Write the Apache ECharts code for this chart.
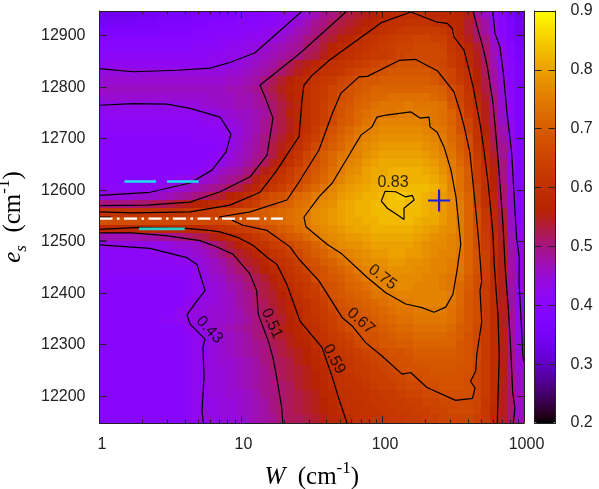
<!DOCTYPE html>
<html><head><meta charset="utf-8">
<style>html,body{margin:0;padding:0;background:#fff}#c{width:599px;height:489px}</style>
<script src="https://cdn.jsdelivr.net/npm/echarts@6/dist/echarts.min.js"></script>
</head><body><div id="c"></div>
<script>
// Values, in hundredths, top row first, W rising left to right
const fidelityRows = [
[34,34,34,34,34,35,35,36,36,36,36,37,37,37,38,38,39,39,39,40,40,41,42,43,45,47,49,50,52,53,54,55,56,57,58,59,59,59,59,58,58,58,57,55,49,46,42,39,36,33],
[35,35,35,35,36,36,36,37,37,37,37,38,38,39,39,39,40,40,40,41,41,42,43,45,47,49,50,52,53,54,55,56,57,59,60,60,61,61,61,60,60,58,57,54,51,48,43,40,37,34],
[37,37,37,37,37,37,37,38,38,38,38,39,39,40,40,40,40,41,41,42,43,44,45,47,48,50,51,53,54,55,56,58,59,60,61,62,63,63,63,63,62,60,57,54,51,48,44,40,37,34],
[39,39,39,39,39,39,39,39,39,39,39,40,40,40,41,41,41,42,42,43,44,45,47,48,50,51,53,54,56,57,59,60,61,62,63,64,64,65,65,64,64,61,58,55,52,50,45,41,38,35],
[40,40,40,40,40,40,40,40,40,40,40,41,41,41,41,42,42,43,44,45,46,47,48,49,51,52,54,56,58,59,60,61,62,63,64,65,65,66,66,66,65,62,60,57,54,51,46,42,39,36],
[41,41,41,41,41,41,41,41,41,41,41,41,41,42,42,43,43,44,45,46,47,48,49,50,52,53,55,57,59,60,61,62,63,63,64,65,66,66,66,66,66,63,61,58,55,51,47,43,39,36],
[42,42,42,42,42,42,42,42,42,42,42,42,42,42,43,43,44,45,46,47,48,50,52,54,55,57,59,60,61,62,63,64,65,66,67,68,68,68,67,66,65,63,61,58,55,52,47,43,40,37],
[44,44,44,44,44,44,44,44,44,44,44,44,44,44,44,45,45,46,47,48,50,51,53,55,57,59,60,61,62,64,65,66,67,68,69,69,69,69,69,68,66,65,62,60,56,52,48,43,40,37],
[45,45,45,45,45,45,45,45,45,45,45,45,45,45,45,46,46,47,48,50,52,54,56,58,59,61,62,63,65,66,68,69,69,70,70,70,70,70,70,69,67,65,63,60,56,53,48,44,40,37],
[46,46,46,46,46,46,46,46,46,46,46,46,46,46,46,47,47,48,49,51,53,55,57,58,60,62,63,65,66,68,69,70,71,71,71,71,71,71,71,71,70,67,65,61,57,53,49,44,41,38],
[45,45,45,45,45,45,45,45,45,45,45,45,45,46,46,46,47,47,48,50,52,54,56,58,60,62,63,65,67,68,70,71,72,72,73,73,73,73,73,72,71,68,65,62,58,54,50,44,41,38],
[43,43,43,43,43,43,43,43,43,43,44,44,45,45,46,46,47,47,48,49,51,53,55,58,60,62,64,66,68,69,71,72,73,74,74,74,75,74,74,74,73,69,66,62,59,55,50,45,41,38],
[42,42,42,42,42,42,42,42,42,42,42,42,43,43,44,45,46,46,47,48,51,53,56,58,60,62,64,66,68,70,72,73,74,74,74,75,75,75,75,74,73,71,67,63,60,55,51,45,41,38],
[41,41,41,41,41,41,41,41,41,41,41,41,42,42,42,44,45,46,47,49,51,53,55,58,60,62,64,66,69,70,72,74,75,76,76,76,76,76,75,74,73,71,68,65,60,55,51,46,42,38],
[41,41,41,41,41,41,41,41,41,41,41,41,41,41,42,43,44,46,47,49,51,53,55,58,60,63,66,68,70,72,74,75,76,77,77,77,77,77,76,75,74,72,68,65,61,56,52,47,42,38],
[40,40,40,40,40,40,40,40,40,40,40,41,41,41,41,43,45,46,48,50,52,54,56,59,62,64,67,69,71,73,75,76,77,78,78,78,78,78,77,76,75,72,70,67,61,57,52,48,43,38],
[40,40,40,40,40,40,40,40,40,40,40,40,40,40,41,43,45,47,48,50,53,55,58,60,63,66,68,70,72,74,76,77,78,79,79,79,79,79,78,77,75,73,70,67,62,58,53,49,44,39],
[40,40,40,40,40,40,40,40,40,40,40,40,40,41,42,44,46,47,49,50,53,56,59,62,65,68,70,72,74,75,76,78,79,80,80,80,80,80,79,78,76,74,71,68,63,59,54,49,43,39],
[40,40,40,40,40,40,40,40,40,40,40,40,41,42,43,45,46,48,50,52,55,57,60,63,66,68,70,72,75,76,77,79,80,81,81,81,81,81,80,79,77,75,72,69,64,59,55,50,44,39],
[40,40,40,40,40,40,40,40,40,40,40,41,42,44,46,47,48,50,52,55,58,60,63,65,67,69,71,73,75,77,78,80,81,81,82,82,82,82,81,80,78,75,73,70,64,60,56,50,44,39],
[40,40,40,40,40,40,41,41,41,42,42,44,45,46,48,49,50,52,55,58,60,62,64,66,68,70,72,74,76,78,79,80,81,82,82,82,82,82,82,81,79,76,73,70,64,60,56,50,44,39],
[41,41,41,41,41,42,42,43,44,45,46,47,48,49,50,52,53,55,57,60,62,64,66,68,70,72,74,76,78,79,80,81,82,82,83,83,83,83,83,82,80,76,73,70,65,60,56,51,44,39],
[44,44,44,44,45,45,45,46,47,48,49,50,51,53,54,56,57,59,62,65,67,68,70,72,73,75,76,77,79,80,81,82,82,83,84,85,84,83,82,81,79,77,74,71,65,60,57,51,45,40],
[50,50,50,50,51,51,52,52,53,54,55,56,57,58,59,59,60,62,64,67,68,70,71,73,74,76,77,78,80,81,82,82,83,83,84,84,83,83,82,81,79,77,75,71,65,60,57,51,45,40],
[61,61,61,61,61,61,61,61,61,61,62,63,63,64,65,66,67,68,69,70,71,72,73,74,75,77,78,79,80,81,82,82,83,83,83,84,83,83,82,81,79,77,75,71,67,62,58,53,45,40],
[68,67,67,67,67,66,66,66,66,66,66,66,66,66,66,67,68,68,69,70,71,72,73,74,75,77,78,79,80,81,81,82,82,83,83,83,83,82,81,81,79,77,75,71,67,62,58,53,46,40],
[58,58,58,58,58,58,58,58,58,58,58,58,59,60,61,62,63,64,65,67,68,70,71,73,74,76,77,78,79,80,81,81,82,82,82,82,82,81,80,79,78,77,75,71,67,63,58,54,46,41],
[47,47,47,47,47,48,48,49,49,50,51,52,53,55,56,58,59,60,62,64,65,67,69,70,72,74,76,77,78,79,79,80,81,81,81,81,81,80,79,78,77,76,75,71,67,63,59,54,47,42],
[43,43,43,43,43,43,43,43,44,45,45,46,48,50,52,54,56,58,60,61,63,64,66,68,69,71,73,76,77,78,78,79,80,80,80,80,80,79,78,77,77,76,75,71,67,63,59,55,47,42],
[41,41,41,41,41,41,42,42,43,43,44,45,46,48,50,52,54,55,57,59,61,62,64,66,68,70,71,73,75,76,77,78,79,79,80,80,79,79,78,77,76,76,74,71,68,64,59,55,48,43],
[41,41,41,41,41,41,41,41,41,42,42,43,45,46,48,50,52,54,55,57,59,61,62,64,67,68,70,71,73,75,76,77,78,78,79,79,78,78,77,76,76,75,74,71,68,64,59,55,48,43],
[41,41,41,41,41,41,41,41,41,41,41,43,44,46,47,49,51,52,54,56,58,59,61,63,65,67,68,70,71,73,75,76,76,77,78,78,78,77,77,76,76,75,74,71,68,64,59,55,48,43],
[40,40,40,40,40,40,40,40,40,40,41,42,43,45,46,48,49,51,52,54,56,58,60,62,63,67,68,69,70,72,73,75,76,76,77,77,77,77,76,76,75,74,73,70,67,64,59,55,48,43],
[40,40,40,40,40,40,40,40,40,40,41,42,43,44,45,47,48,50,52,53,55,57,59,61,62,64,67,68,69,71,72,73,75,76,76,77,77,76,76,76,75,74,72,70,67,63,59,55,48,43],
[40,40,40,40,40,40,40,40,40,40,41,42,43,44,45,46,48,49,51,53,54,56,58,60,62,63,65,68,69,70,71,72,74,74,75,76,76,76,76,76,76,75,72,69,67,63,59,55,48,43],
[40,40,40,40,40,40,40,40,40,40,42,43,44,44,45,46,48,49,51,52,54,55,57,59,60,62,64,66,68,69,70,71,72,73,74,75,75,76,76,76,76,74,72,69,67,63,59,55,48,43],
[40,40,40,40,40,40,40,40,40,42,43,44,44,45,45,46,47,49,50,52,53,55,57,58,60,62,63,65,67,68,69,70,71,72,73,74,74,75,75,75,75,73,71,69,67,63,59,55,49,43],
[40,40,40,40,40,40,40,41,41,42,43,44,44,45,45,46,47,48,50,52,53,54,56,58,60,61,63,64,66,68,68,69,70,71,72,73,73,74,74,74,74,73,71,69,67,63,59,55,49,43],
[40,40,40,40,40,40,40,40,40,40,42,43,44,45,46,47,48,49,50,51,53,55,56,57,59,60,62,64,65,67,68,68,69,70,71,72,72,73,73,73,73,72,70,69,66,63,59,55,49,43],
[40,40,40,40,40,40,40,40,40,40,41,42,43,44,45,46,47,48,50,51,53,54,55,57,58,60,61,63,64,65,67,68,68,69,70,71,71,72,72,72,72,71,70,68,66,63,59,55,49,43],
[40,40,40,40,40,40,40,40,40,40,41,42,43,44,45,46,47,48,49,50,52,53,55,56,57,59,60,62,63,64,66,67,68,69,69,70,70,71,71,71,71,71,69,68,66,63,59,55,49,44],
[40,40,40,40,40,40,40,40,40,40,41,42,43,44,45,46,47,48,49,50,51,53,54,55,56,58,60,61,62,63,64,65,66,67,68,68,69,70,70,70,70,70,69,68,66,63,59,55,50,44],
[40,40,40,40,40,40,40,40,40,40,41,42,43,44,45,45,46,47,48,50,51,52,53,55,56,57,59,60,61,62,63,64,65,66,67,68,68,69,69,69,69,69,69,68,66,63,59,55,50,45],
[40,40,40,40,40,40,40,40,40,40,41,42,43,44,44,45,46,47,48,49,51,52,53,54,55,57,58,60,61,62,63,63,64,65,66,67,68,68,68,69,69,69,68,68,65,63,59,55,50,45],
[40,40,40,40,40,40,40,40,40,40,41,42,43,44,44,45,46,47,48,49,50,52,53,54,55,56,58,59,60,61,62,63,64,64,65,66,67,67,68,68,68,68,68,67,65,63,59,55,51,46],
[40,40,40,40,40,40,40,40,40,40,41,42,43,44,44,45,46,47,48,49,50,51,52,54,55,56,57,59,60,61,61,62,63,64,64,65,66,66,67,67,68,68,68,67,65,63,59,55,51,46],
[40,40,40,40,40,40,40,40,40,40,41,42,43,44,44,45,45,46,47,49,50,51,52,53,54,55,57,58,60,60,61,61,62,63,63,64,65,65,66,66,67,67,67,67,65,63,59,55,51,46],
[40,40,40,40,40,40,40,40,40,40,41,42,43,43,44,44,45,46,47,48,50,51,52,53,54,55,56,58,59,60,60,61,62,62,63,63,64,64,65,65,66,66,66,66,65,62,59,55,51,46],
[40,40,40,40,40,40,40,40,40,40,41,42,43,43,44,44,45,46,47,48,50,51,52,53,54,55,56,57,59,60,60,61,61,62,62,63,63,64,64,65,65,66,66,66,65,62,58,55,51,46],
[40,40,40,40,40,40,40,40,40,40,41,42,43,43,44,44,45,46,47,48,49,51,52,52,53,54,55,57,58,59,60,60,61,61,62,62,63,63,64,64,65,65,65,65,64,62,58,55,51,46]
];
// Contours: [log10(W), es]
const contour043top = [[0,12836],[.237,12830],[.548,12833],[.781,12837],[.922,12848],[1.099,12867],[1.297,12915],[1.417,12944],[1.431,12948]];
const contour043lobe = [[0,12765],[.237,12768],[.477,12767],[.64,12759],[.852,12742],[.929,12709],[.894,12674],[.795,12639],[.64,12614],[.357,12596],[0,12590]];
const contour043bottom = [[0,12494],[.357,12487],[.618,12469],[.689,12456],[.746,12405],[.689,12385],[.618,12358],[.64,12340],[.746,12311],[.731,12295],[.739,12237],[.724,12172],[.734,12148]];
const contour043right = [[2.779,12948],[2.795,12905],[2.83,12878],[2.854,12827],[2.878,12755],[2.913,12672],[2.936,12561],[2.948,12507],[2.967,12468],[2.965,12422],[2.984,12325],[2.991,12280],[3,12266]];
const contour051upper = [[0,12570],[.336,12571],[.64,12577],[.852,12597],[1.064,12626],[1.184,12668],[1.226,12740],[1.17,12781],[1.134,12804],[1.417,12866],[1.749,12948]];
const contour051right = [[2.64,12948],[2.675,12911],[2.71,12878],[2.741,12839],[2.781,12769],[2.807,12691],[2.83,12614],[2.852,12532],[2.866,12454],[2.889,12371],[2.906,12293],[2.92,12208],[2.936,12177],[2.924,12148]];
const contour051lower = [[0,12517],[.23,12517],[.47,12512],[.71,12502],[.802,12493],[.943,12476],[1.064,12437],[1.111,12405],[1.122,12359],[1.193,12307],[1.226,12275],[1.252,12237],[1.288,12178],[1.295,12148]];
const contour051stub = [[0,12501],[.049,12501]];
const contour059upper = [[0,12558],[.237,12556],[.64,12558],[.922,12571],[1.134,12596],[1.254,12639],[1.346,12678],[1.41,12704],[1.431,12775],[1.445,12804],[1.502,12823],[1.622,12852],[1.996,12926],[2.201,12946],[2.378,12927],[2.458,12924],[2.493,12914],[2.505,12898],[2.576,12872],[2.595,12852],[2.64,12801],[2.689,12730],[2.717,12678],[2.746,12614],[2.765,12561],[2.781,12513],[2.79,12454],[2.816,12357],[2.825,12280],[2.811,12148]];
const contour059lower = [[0,12524],[.279,12528],[.611,12526],[.774,12522],[.852,12519],[.972,12509],[1.085,12493],[1.184,12470],[1.254,12456],[1.323,12418],[1.417,12346],[1.572,12295],[1.643,12239],[1.693,12194],[1.749,12148]];
const contour067stub = [[0,12548],[.081,12548]];
const contour067 = [[.845,12548],[1.064,12558],[1.325,12581],[1.41,12616],[1.551,12678],[1.645,12749],[1.705,12788],[1.834,12820],[1.893,12821],[2.117,12852],[2.235,12854],[2.387,12832],[2.505,12791],[2.553,12749],[2.583,12717],[2.618,12672],[2.647,12594],[2.666,12542],[2.682,12495],[2.701,12422],[2.689,12406],[2.701,12344],[2.666,12280],[2.659,12249],[2.622,12229],[2.654,12216],[2.636,12196],[2.517,12192],[2.314,12217],[2.199,12246],[2.138,12243],[1.996,12278],[1.881,12304],[1.784,12337],[1.714,12353],[1.551,12424],[1.41,12466],[1.346,12490],[1.184,12522],[1.014,12532],[.936,12542]];
const contour075 = [[1.445,12548],[1.551,12587],[1.645,12614],[1.763,12668],[1.848,12707],[1.926,12723],[1.961,12742],[2.025,12746],[2.201,12752],[2.265,12740],[2.329,12742],[2.336,12723],[2.385,12713],[2.435,12684],[2.484,12639],[2.519,12587],[2.541,12529],[2.553,12495],[2.526,12443],[2.498,12398],[2.447,12373],[2.364,12363],[2.279,12372],[2.164,12379],[2.023,12401],[1.89,12431],[1.714,12476],[1.608,12495],[1.459,12529],[1.445,12548]];
const contour083 = [[2.018,12598],[2.093,12597],[2.164,12587],[2.211,12590],[2.223,12581],[2.152,12565],[2.152,12543],[2.117,12550],[2.034,12565],[1.992,12579],[2.018,12598]];
const contourList = [contour043top,contour043lobe,contour043bottom,contour043right,contour051upper,contour051right,contour051lower,contour051stub,contour059upper,contour059lower,contour067stub,contour067,contour075,contour083];
const contourLabelTexts = ['0.83','0.75','0.67','0.59','0.51','0.43'];
const contourLabelPoints = [[2.074,12614],[1.999,12431],[1.846,12346],[1.657,12272],[1.217,12341],[.776,12329]];
const contourLabelAngles = [0,-38,-42,-62,-65,-47];
const esTicks = [12200,12300,12400,12500,12600,12700,12800,12900];
const wMinorTicks = [2,3,4,5,6,7,8,9,20,30,40,50,60,70,80,90,200,300,400,500,600,700,800,900];
const cyanUpperA = [[1.5,12617],[2.51,12617]];
const cyanUpperB = [[3,12617],[5.02,12617]];
const tealLower = [[1.9,12525],[4,12525]];
const whiteDashDot = [[1,12545],[19.8,12545]];
const bluePlus = [251,12580];
const esMin = 12148, esMax = 12948, wMin = 1, wMax = 1000, zMin = 0.2, zMax = 0.9;

// gnuplot's default pm3d palette (rgbformulae 7,5,15), blue tail stretched slightly to suit the picture
const palette = [];
for (let i = 0; i <= 70; i++) {
  const g = i / 70;
  const r = Math.sqrt(g), gg = g * g * g, b = Math.max(0, Math.sin(2 * Math.PI * g * 0.97));
  palette.push('rgb(' + Math.round(r * 255) + ',' + Math.round(gg * 255) + ',' + Math.round(b * 255) + ')');
}

// Cell table for the map
const nRows = fidelityRows.length, nCols = fidelityRows[0].length;
const cells = [];
fidelityRows.forEach((row, r) => row.forEach((v, c) => {
  const logSpan = Math.log10(wMax / wMin);
  cells.push([
    wMin * Math.pow(10, logSpan * c / nCols), wMin * Math.pow(10, logSpan * (c + 1) / nCols),
    esMax - (esMax - esMin) * (r + 1) / nRows, esMax - (esMax - esMin) * r / nRows,
    v / 100
  ]);
}));

const INK = '#222';
const series = [];
series.push({
  type: 'custom', xAxisIndex: 0, yAxisIndex: 0, data: cells, silent: true, z: 1,
  encode: { x: [0, 1], y: [2, 3] }, clip: true,
  renderItem(params, api) {
    const a = api.coord([api.value(0), api.value(2)]);
    const b = api.coord([api.value(1), api.value(3)]);
    const x = Math.floor(a[0]), y = Math.floor(b[1]);
    return { type: 'rect', shape: { x, y, width: Math.ceil(b[0]) - x, height: Math.ceil(a[1]) - y }, style: { fill: api.visual('color') } };
  }
});
contourList.forEach(pts => series.push({
  type: 'line', xAxisIndex: 0, yAxisIndex: 0, symbol: 'none', silent: true, z: 3, animation: false,
  data: pts.map(p => [Math.pow(10, p[0]), p[1]]),
  lineStyle: { color: '#000', width: 1.2 }
}));
series.push({
  type: 'custom', xAxisIndex: 0, yAxisIndex: 0, silent: true, z: 6, data: wMinorTicks.map(w => [w]),
  encode: { x: 0 }, clip: false,
  renderItem(params, api) {
    const w = api.value(0);
    const lo = api.coord([w, esMin]), hi = api.coord([w, esMax]);
    const st = { stroke: INK, lineWidth: 1 };
    const x = Math.round(lo[0]) + 0.5;
    return { type: 'group', children: [
      { type: 'line', shape: { x1: x, y1: lo[1], x2: x, y2: lo[1] - 3.5 }, style: st },
      { type: 'line', shape: { x1: x, y1: hi[1], x2: x, y2: hi[1] + 3.5 }, style: st }
    ] };
  }
});
[[cyanUpperA, '#1fe0f0'], [cyanUpperB, '#1fe0f0'], [tealLower, '#2ccfc8']].forEach(([pts, color]) => series.push({
  type: 'line', xAxisIndex: 0, yAxisIndex: 0, symbol: 'none', silent: true, z: 4, animation: false,
  data: pts, lineStyle: { color, width: 2.6 }
}));
series.push({
  type: 'line', xAxisIndex: 0, yAxisIndex: 0, symbol: 'none', silent: true, z: 4, animation: false,
  data: whiteDashDot, lineStyle: { color: '#fff', width: 2.2, type: [13, 4.5, 2.5, 4.5] }
});
series.push({
  type: 'scatter', xAxisIndex: 0, yAxisIndex: 0, silent: true, z: 5, animation: false,
  data: [bluePlus], symbol: 'path://M0,10L20,10M10,0L10,20', symbolSize: 22,
  itemStyle: { color: 'rgba(0,0,0,0)', borderColor: '#1c1ce0', borderWidth: 2.2, opacity: 1 }
});
series.push({
  type: 'scatter', xAxisIndex: 0, yAxisIndex: 0, silent: true, z: 5, animation: false,
  symbolSize: 1, itemStyle: { color: 'rgba(0,0,0,0)' },
  data: contourLabelTexts.map((t, i) => ({
    name: t, value: [Math.pow(10, contourLabelPoints[i][0]), contourLabelPoints[i][1]],
    label: { show: true, position: 'inside', formatter: t, rotate: contourLabelAngles[i], color: '#000',
      fontFamily: 'Liberation Sans', fontSize: 16, align: 'center', verticalAlign: 'middle' }
  }))
});

const labelFont = { fontFamily: 'Liberation Sans', fontSize: 16, color: '#222' };
const titleRich = {
  i: { fontFamily: 'Liberation Serif', fontStyle: 'italic', fontSize: 25, lineHeight: 34, color: '#000' },
  r: { fontFamily: 'Liberation Serif', fontSize: 25, lineHeight: 34, color: '#000' },
  sup: { fontFamily: 'Liberation Serif', fontSize: 17, verticalAlign: 'top', lineHeight: 26, color: '#000' },
  sub: { fontFamily: 'Liberation Serif', fontStyle: 'italic', fontSize: 17, verticalAlign: 'bottom', lineHeight: 22, color: '#000' }
};
const frame = { show: true, onZero: false, lineStyle: { color: INK, width: 1 } };
const tick = { show: true, inside: true, length: 7, lineStyle: { color: INK, width: 1 } };
const plain = v => String(v);

const chart = echarts.init(document.getElementById('c'), null, { renderer: 'canvas' });
chart.setOption({
  animation: false,
  backgroundColor: '#fff',
  grid: [
    { left: 99.5, top: 11, width: 424.5, height: 412, containLabel: false, outerBoundsMode: 'none' },
    { left: 534.5, top: 11, width: 21, height: 412, containLabel: false, outerBoundsMode: 'none' }
  ],
  xAxis: [
    { type: 'log', gridIndex: 0, z: 10, min: wMin, max: wMax, logBase: 10, position: 'bottom', axisLine: frame, axisTick: tick, splitLine: { show: false },
      axisLabel: { ...labelFont, margin: 14, padding: [0, 0, 0, 5], showMinLabel: true, showMaxLabel: true, formatter: plain },
      name: '{i|W}{r|  (cm}{sup|-1}{r|)}', nameLocation: 'middle', nameGap: 37, nameTextStyle: { rich: titleRich } },
    { type: 'log', gridIndex: 0, z: 10, min: wMin, max: wMax, logBase: 10, position: 'top', axisLine: frame, axisTick: tick, axisLabel: { show: false }, splitLine: { show: false } },
    { type: 'value', gridIndex: 1, z: 10, min: 0, max: 1, position: 'bottom', axisLine: frame, axisTick: { show: false }, axisLabel: { show: false }, splitLine: { show: false } },
    { type: 'value', gridIndex: 1, z: 10, min: 0, max: 1, position: 'top', axisLine: frame, axisTick: { show: false }, axisLabel: { show: false }, splitLine: { show: false } }
  ],
  yAxis: [
    { type: 'value', gridIndex: 0, z: 10, min: esMin, max: esMax, position: 'left', axisLine: frame,
      axisTick: { ...tick, customValues: esTicks }, splitLine: { show: false },
      axisLabel: { ...labelFont, margin: 14, customValues: esTicks, formatter: plain },
      name: '{i|e}{sub|s}{r|  (cm}{sup|-1}{r|)}', nameLocation: 'middle', nameGap: 66, nameRotate: 90, nameTextStyle: { rich: titleRich } },
    { type: 'value', gridIndex: 0, z: 10, min: esMin, max: esMax, position: 'right', axisLine: frame,
      axisTick: { ...tick, customValues: esTicks }, axisLabel: { show: false }, splitLine: { show: false } },
    { type: 'value', gridIndex: 1, z: 10, min: zMin, max: zMax, interval: 0.1, position: 'left', axisLine: frame, axisTick: tick, axisLabel: { show: false }, splitLine: { show: false } },
    { type: 'value', gridIndex: 1, z: 10, min: zMin, max: zMax, interval: 0.1, position: 'right', axisLine: frame, axisTick: tick, splitLine: { show: false },
      axisLabel: { ...labelFont, margin: 15, formatter: v => v.toFixed(1) } }
  ],
  visualMap: {
    type: 'continuous', min: zMin, max: zMax, seriesIndex: 0, dimension: 4,
    left: 534.5, top: 11, itemWidth: 21, itemHeight: 412, padding: 0, text: null, z: 1,
    calculable: false, showLabel: false, hoverLink: false, orient: 'vertical', inRange: { color: palette }
  },
  series
});
</script></body></html>
